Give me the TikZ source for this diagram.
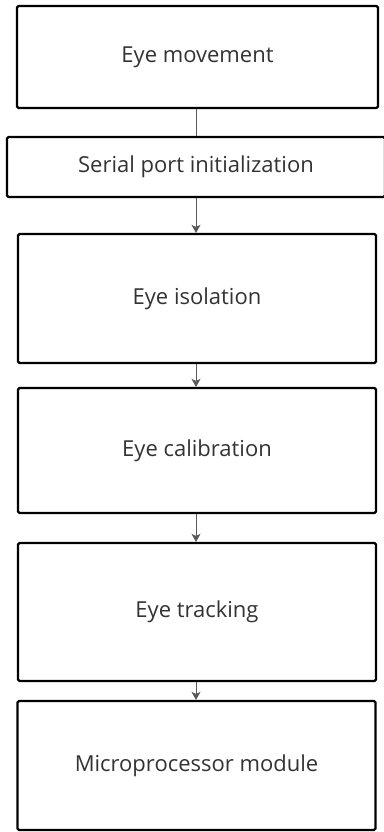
\documentclass[tikz,border=0pt]{standalone}
\usepackage{fontspec}
\setmainfont{Open Sans}
\usetikzlibrary{arrows.meta}
\begin{document}
\begin{tikzpicture}[x=1pt,y=-1pt,
  box/.style={draw=black, line width=2.2pt, rounded corners=1.5pt, fill=white,
    inner sep=0pt, text=black!80, font=\fontsize{22}{24}\selectfont},
  link/.style={draw=black!65, line width=0.9pt},
  arr/.style={link, -{Stealth[length=8pt,width=9pt,inset=2pt]}}]
\useasboundingbox (0,0) rectangle (383,832);
\node[box, minimum width=361pt, minimum height=102pt] (a) at (197.5,57) {Eye movement};
\node[box, minimum width=378pt, minimum height=60pt] (b) at (196,167) {Serial port initialization};
\node[box, minimum width=358pt, minimum height=129pt] (c) at (197,298.5) {Eye isolation};
\node[box, minimum width=358pt, minimum height=125pt] (d) at (197,450.5) {Eye calibration};
\node[box, minimum width=358pt, minimum height=138pt] (e) at (197,612) {Eye tracking};
\node[box, minimum width=358pt, minimum height=129pt] (f) at (196.5,765.5) {Microprocessor module};
\draw[link] (a.south -| 196,0) -- (b.north -| 196,0);
\draw[arr] (b.south -| 196,0) -- (c.north -| 196,0);
\draw[arr] (c.south -| 196,0) -- (d.north -| 196,0);
\draw[arr] (d.south -| 196,0) -- (e.north -| 196,0);
\draw[arr] (e.south -| 196,0) -- (f.north -| 196,0);
\end{tikzpicture}
\end{document}
